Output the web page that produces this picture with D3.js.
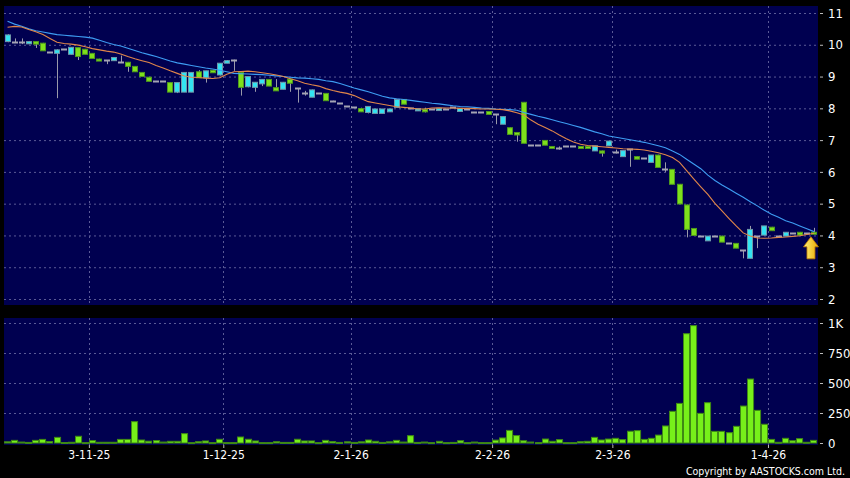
<!DOCTYPE html>
<html><head><meta charset="utf-8">
<script src="https://cdn.jsdelivr.net/npm/d3@7"></script>
<style>body{margin:0;background:#000;} svg{display:block;}</style>
</head><body><svg id="c" width="850" height="478"></svg>
<script>
const openP = [10.10,10.08,10.08,10.03,10.10,10.05,9.78,9.73,9.87,9.70,
9.91,9.86,9.73,9.55,9.52,9.50,9.45,9.45,9.32,9.13,
8.98,8.87,8.87,8.81,8.51,8.51,8.51,9.15,8.96,9.20,
9.05,9.42,9.52,9.13,8.68,8.66,8.77,8.91,8.65,8.60,
8.92,8.63,8.47,8.35,8.49,8.47,8.24,8.16,8.07,8.03,
7.99,7.87,7.84,7.84,7.89,8.03,8.28,8.00,7.92,7.97,
7.97,7.93,7.98,8.05,7.90,7.97,7.88,7.88,7.90,7.81,
7.50,7.39,7.24,8.19,6.85,6.85,6.99,6.80,6.76,6.80,
6.82,6.80,6.80,6.66,6.66,6.82,6.64,6.48,6.71,6.48,
6.45,6.30,6.53,6.08,6.08,5.61,4.96,4.22,3.98,3.83,
3.98,3.98,3.77,3.75,3.54,3.28,3.98,4.01,4.26,3.98,
3.98,4.07,4.10,4.07,4.10];
const highP = [10.33,10.20,10.20,10.12,10.11,10.06,9.78,9.86,9.87,9.93,
9.92,9.87,9.74,9.56,9.52,9.61,9.66,9.46,9.33,9.14,
8.99,8.87,8.87,8.82,8.81,9.13,9.13,9.20,9.18,9.21,
9.42,9.52,9.53,9.14,9.00,8.83,8.92,8.92,8.92,8.83,
8.93,8.64,8.55,8.59,8.49,8.48,8.24,8.16,8.07,8.03,
8.02,8.06,7.98,7.98,7.98,8.28,8.29,8.00,7.99,8.02,
7.97,8.00,7.98,8.05,8.00,7.97,7.88,7.88,7.91,7.81,
7.74,7.40,7.25,8.20,6.85,6.85,7.00,6.81,6.80,6.80,
6.82,6.81,6.81,6.82,6.67,6.97,6.70,6.67,6.71,6.49,
6.45,6.53,6.54,6.30,6.09,5.62,4.97,4.23,3.98,3.98,
3.98,3.99,3.77,3.76,3.54,4.30,3.98,4.30,4.27,3.98,
4.10,4.07,4.11,4.07,4.24];
const lowP = [10.08,10.06,10.02,10.02,9.90,9.81,9.78,8.32,9.87,9.69,
9.52,9.70,9.57,9.50,9.39,9.50,9.44,9.15,9.15,9.00,
8.85,8.87,8.87,8.51,8.48,8.51,8.51,8.96,8.81,9.12,
9.03,9.42,9.18,8.40,8.66,8.52,8.70,8.70,8.55,8.60,
8.52,8.18,8.40,8.35,8.49,8.24,8.20,8.16,8.07,8.03,
7.89,7.84,7.84,7.84,7.89,8.03,8.13,8.00,7.92,7.87,
7.97,7.93,7.98,8.05,7.90,7.97,7.88,7.88,7.81,7.50,
7.50,7.18,6.95,6.90,6.85,6.85,6.84,6.74,6.70,6.80,
6.82,6.76,6.76,6.66,6.48,6.82,6.58,6.48,6.16,6.40,
6.45,6.30,6.14,6.00,5.61,4.99,3.94,4.00,3.98,3.83,
3.98,3.79,3.77,3.60,3.28,3.28,3.60,4.01,4.15,3.98,
3.98,4.07,4.01,4.07,4.05];
const closeP = [10.31,10.08,10.08,10.10,10.02,9.81,9.78,9.84,9.87,9.92,
9.63,9.70,9.57,9.50,9.52,9.60,9.45,9.32,9.15,9.00,
8.85,8.87,8.87,8.51,8.81,9.13,9.13,8.96,9.18,9.12,
9.42,9.50,9.52,8.66,9.00,8.82,8.91,8.70,8.55,8.82,
8.79,8.63,8.47,8.58,8.49,8.24,8.24,8.16,8.07,8.03,
7.89,8.06,7.98,7.98,7.98,8.28,8.13,8.00,7.99,7.89,
7.97,8.00,7.98,8.05,8.00,7.97,7.88,7.88,7.81,7.81,
7.74,7.18,7.16,6.90,6.85,6.85,6.84,6.74,6.76,6.80,
6.82,6.76,6.76,6.82,6.59,6.97,6.64,6.67,6.71,6.40,
6.45,6.53,6.14,6.08,5.61,4.99,4.19,4.00,3.98,3.98,
3.98,3.79,3.77,3.60,3.54,4.19,3.98,4.30,4.15,3.98,
4.10,4.07,4.01,4.07,4.05];
const volume = [10,22,8,5,22,30,12,47,4,6,
56,3,20,6,6,6,30,30,178,25,
15,20,8,14,14,78,3,11,17,3,
31,3,3,50,31,17,3,3,11,5,
5,31,17,17,3,22,12,5,10,5,
10,25,14,5,10,22,8,61,5,8,
3,14,3,5,19,3,8,3,3,24,
42,105,62,19,8,3,33,14,28,3,
3,11,14,47,25,33,39,28,98,103,
30,39,66,142,264,330,911,978,247,336,
97,97,86,139,308,533,272,156,30,6,
39,19,36,6,22];
const maFast = [10.55,10.58,10.56,10.48,10.41,10.32,10.20,10.08,10.04,10.02,
9.99,9.94,9.88,9.84,9.80,9.77,9.71,9.63,9.56,9.50,
9.44,9.35,9.27,9.18,9.10,9.02,8.98,8.97,8.95,8.94,
8.96,9.07,9.15,9.16,9.17,9.15,9.12,9.09,9.05,9.00,
8.93,8.87,8.79,8.74,8.70,8.62,8.56,8.51,8.47,8.40,
8.30,8.21,8.17,8.13,8.09,8.05,8.03,8.01,7.98,7.98,
8.01,8.02,8.01,8.01,8.00,8.00,7.99,7.98,7.98,7.97,
7.96,7.92,7.86,7.79,7.63,7.50,7.40,7.29,7.16,7.04,
6.94,6.87,6.83,6.81,6.79,6.77,6.75,6.73,6.72,6.71,
6.69,6.65,6.60,6.54,6.45,6.30,6.04,5.78,5.53,5.29,
5.01,4.77,4.53,4.30,4.08,3.98,3.92,3.91,3.92,3.94,
3.95,3.97,3.99,4.03,4.07];
const maSlow = [10.74,10.65,10.58,10.50,10.44,10.40,10.36,10.32,10.30,10.28,
10.26,10.24,10.21,10.14,10.07,10.01,9.96,9.89,9.82,9.75,
9.69,9.63,9.56,9.49,9.43,9.39,9.35,9.31,9.27,9.24,
9.20,9.15,9.10,9.09,9.08,9.07,9.06,9.04,9.02,9.00,
8.98,8.96,8.95,8.93,8.91,8.87,8.84,8.78,8.71,8.64,
8.58,8.52,8.45,8.38,8.33,8.30,8.28,8.25,8.22,8.19,
8.16,8.14,8.11,8.08,8.06,8.05,8.03,8.01,8.00,7.98,
7.97,7.96,7.94,7.87,7.81,7.75,7.70,7.64,7.58,7.52,
7.46,7.40,7.33,7.26,7.20,7.13,7.09,7.05,7.01,6.97,
6.93,6.88,6.82,6.76,6.66,6.55,6.40,6.25,6.10,5.90,
5.73,5.59,5.46,5.33,5.20,5.06,4.93,4.79,4.67,4.57,
4.46,4.39,4.30,4.21,4.12];
const priceTicks = [2,3,4,5,6,7,8,9,10,11];
const volTicks = [0,250,500,750,1000];
const volTickLabels = ["0","250","500","750","1K"];
const dateTickIdx = [12,31,49,69,86,108];
const dateTickLabels = ["3-11-25","1-12-25","2-1-26","2-2-26","2-3-26","1-4-26"];

const N = closeP.length;
const idx = d3.range(N);
const svg = d3.select("#c");
const FONT = "'Liberation Sans Narrow','DejaVu Sans Condensed','Arial Narrow',sans-serif";
const L = 4, R = 818;
const top1 = 6, bot1 = 305, top2 = 318, bot2 = 445;

const x = d3.scaleBand().domain(idx).range([L, 817.5]).padding(0);
const xb = d3.scaleLinear().domain([0, N]).range([L, 817.5]);
const yP = d3.scaleLinear().domain([2, 11]).range([299, 13]);
const yV = d3.scaleLinear().domain([0, 1000]).range([443, 323]);

svg.append("rect").attr("width",850).attr("height",478).attr("fill","#000");
svg.append("rect").attr("x",L).attr("y",top1).attr("width",R-L).attr("height",bot1-top1).attr("fill","#000050");
svg.append("rect").attr("x",L).attr("y",top2).attr("width",R-L).attr("height",bot2-top2).attr("fill","#000050");

const gridC = "#5a5a96";
svg.append("g").selectAll("line").data(priceTicks).join("line")
  .attr("x1",L).attr("x2",R).attr("y1",d=>yP(d)+0.5).attr("y2",d=>yP(d)+0.5)
  .attr("stroke",gridC).attr("stroke-dasharray","2,3");
svg.append("g").selectAll("line").data(volTicks.filter(d=>d>0)).join("line")
  .attr("x1",L).attr("x2",R).attr("y1",d=>Math.round(yV(d))+0.5).attr("y2",d=>Math.round(yV(d))+0.5)
  .attr("stroke",gridC).attr("stroke-dasharray","2,3");
[[top1,bot1],[top2,bot2]].forEach(([a,b])=>{
  svg.append("g").selectAll("line").data(dateTickIdx).join("line")
    .attr("x1",d=>Math.round(xb(d))+0.5).attr("x2",d=>Math.round(xb(d))+0.5)
    .attr("y1",a).attr("y2",b)
    .attr("stroke",gridC).attr("stroke-dasharray","2,3");
});

svg.append("clipPath").attr("id","cp").append("rect")
  .attr("x",L).attr("y",top1).attr("width",R-L).attr("height",bot1-top1);
const gP = svg.append("g").attr("clip-path","url(#cp)");

const bw = 6;
const cx = i => x(i) + x.bandwidth()/2;
gP.append("g").selectAll("line").data(idx).join("line")
  .attr("x1",i=>Math.round(cx(i))+0.5).attr("x2",i=>Math.round(cx(i))+0.5)
  .attr("y1",i=>yP(highP[i])).attr("y2",i=>yP(lowP[i]))
  .attr("stroke","#9a9aaa").attr("stroke-width",1);
gP.append("g").selectAll("rect").data(idx.filter(i=>closeP[i]!==openP[i])).join("rect")
  .attr("x",i=>Math.round(cx(i)-bw/2)+0.5)
  .attr("y",i=>yP(Math.max(openP[i],closeP[i])))
  .attr("width",bw-1)
  .attr("height",i=>Math.max(2,Math.abs(yP(openP[i])-yP(closeP[i]))))
  .attr("fill",i=>closeP[i]>openP[i]?"#33e3f2":"#7ee01c")
  .attr("stroke",i=>closeP[i]>openP[i]?"#6f98a8":"#4f9a1e")
  .attr("stroke-width",1);
gP.append("g").selectAll("line").data(idx.filter(i=>closeP[i]===openP[i])).join("line")
  .attr("x1",i=>Math.round(cx(i)-bw/2)).attr("x2",i=>Math.round(cx(i)+bw/2))
  .attr("y1",i=>Math.round(yP(closeP[i]))+0.5).attr("y2",i=>Math.round(yP(closeP[i]))+0.5)
  .attr("stroke","#a4a4b4").attr("stroke-width",2);

const line = arr => d3.line().x(i=>cx(i)).y(i=>yP(arr[i]))(idx);
gP.append("path").attr("d",line(maSlow)).attr("fill","none").attr("stroke","#3d9cf2").attr("stroke-width",1.1);
gP.append("path").attr("d",line(maFast)).attr("fill","none").attr("stroke","#e0864a").attr("stroke-width",1.1);

const ax = cx(N-1)-3, ayTip = yP(closeP[N-1]) + 3;
const grad = svg.append("defs").append("linearGradient").attr("id","ag").attr("x1",0).attr("x2",1);
grad.append("stop").attr("offset","0%").attr("stop-color","#fff07a");
grad.append("stop").attr("offset","100%").attr("stop-color","#e8a800");
svg.append("path")
  .attr("d",`M${ax},${ayTip} L${ax+7.5},${ayTip+10} L${ax+4},${ayTip+10} L${ax+4},${ayTip+22} L${ax-4},${ayTip+22} L${ax-4},${ayTip+10} L${ax-7.5},${ayTip+10} Z`)
  .attr("fill","url(#ag)").attr("stroke","#c07800").attr("stroke-width",0.8);

svg.append("g").selectAll("rect").data(idx).join("rect")
  .attr("x",i=>Math.round(x(i))+0.5)
  .attr("y",i=>yV(volume[i]))
  .attr("width",x.bandwidth()-1)
  .attr("height",i=>Math.max(1,yV(0)-yV(volume[i])))
  .attr("fill","#77f01a").attr("stroke","#3f8a14").attr("stroke-width",1);

const axisStyle = g => {
  g.select(".domain").remove();
  g.selectAll(".tick line").attr("stroke","#bbbbbb");
  g.selectAll(".tick text").attr("fill","#ffffff").attr("font-family",FONT).attr("font-size",13);
};
svg.append("g").attr("transform",`translate(${R+2},0)`)
  .call(d3.axisRight(yP).tickValues(priceTicks).tickSize(3).tickPadding(5).tickFormat(d3.format("d")))
  .call(axisStyle);
svg.append("g").attr("transform",`translate(${R+2},0)`)
  .call(d3.axisRight(yV).tickValues(volTicks).tickSize(3).tickPadding(5).tickFormat((d,i)=>volTickLabels[i]))
  .call(axisStyle);
svg.append("g").attr("transform",`translate(0,${bot2})`)
  .call(d3.axisBottom(xb).tickValues(dateTickIdx).tickSize(3).tickPadding(2).tickFormat((d,i)=>dateTickLabels[i]))
  .call(axisStyle)
  .selectAll(".tick text").attr("font-size",12);

svg.append("text").attr("x",845).attr("y",475).attr("text-anchor","end")
  .attr("fill","#ffffff").attr("font-family",FONT).attr("font-size",10.5)
  .text("Copyright by AASTOCKS.com Ltd.");
</script></body></html>
